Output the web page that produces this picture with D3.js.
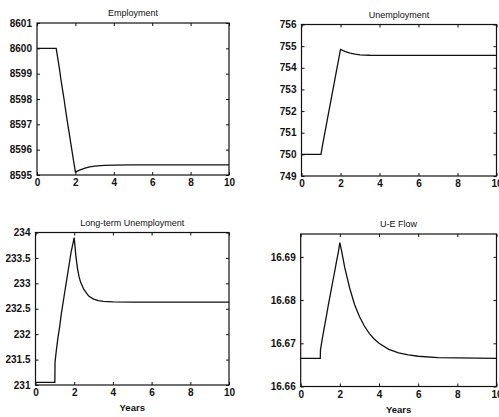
<!DOCTYPE html>
<html>
<head>
<meta charset="utf-8">
<script src="https://cdn.jsdelivr.net/npm/d3@7"></script>
<style>
  body { margin: 0; background: #fff; }
  svg { display: block; }
  .tick text { font-family: "Liberation Sans", Arial, sans-serif; font-weight: bold; font-size: 10px; fill: #111; }
  .title { font-family: "Liberation Sans", Arial, sans-serif; font-size: 9px; fill: #111; }
  .xlabel { font-family: "Liberation Sans", Arial, sans-serif; font-weight: bold; font-size: 9.5px; fill: #111; }
</style>
</head>
<body>
<div id="chart"></div>
<script>
// ---- data ----
let xTicks = [0, 2, 4, 6, 8, 10];

let empT = [0, 1, 1.083, 1.167, 1.25, 1.333, 1.417, 1.5, 1.583, 1.667, 1.75, 1.833, 1.917, 2, 2.25, 2.5, 2.75, 3, 3.5, 4, 5, 10];
let empV = [8600, 8600, 8599.6, 8599.2, 8598.75, 8598.35, 8597.95, 8597.5, 8597.1, 8596.7, 8596.3, 8595.9, 8595.5, 8595.12, 8595.2, 8595.27, 8595.32, 8595.35, 8595.38, 8595.39, 8595.4, 8595.4];
let empTicks = [8595, 8596, 8597, 8598, 8599, 8600, 8601];

let unT = [0, 1, 1.083, 1.167, 1.25, 1.333, 1.417, 1.5, 1.583, 1.667, 1.75, 1.833, 1.917, 2, 2.25, 2.5, 2.75, 3, 3.5, 4, 5, 10];
let unV = [750, 750, 750.45, 750.85, 751.25, 751.65, 752.05, 752.45, 752.85, 753.25, 753.65, 754.05, 754.45, 754.85, 754.75, 754.68, 754.63, 754.6, 754.58, 754.57, 754.57, 754.57];
let unTicks = [749, 750, 751, 752, 753, 754, 755, 756];

let ltT = [0, 1, 1.01, 1.083, 1.167, 1.25, 1.333, 1.417, 1.5, 1.583, 1.667, 1.75, 1.833, 1.917, 2, 2.083, 2.167, 2.25, 2.333, 2.5, 2.75, 3, 3.25, 3.5, 4, 5, 10];
let ltV = [231.05, 231.05, 231.45, 231.7, 231.95, 232.15, 232.4, 232.6, 232.8, 233.0, 233.2, 233.4, 233.6, 233.75, 233.9, 233.55, 233.3, 233.13, 233.02, 232.88, 232.75, 232.69, 232.66, 232.645, 232.635, 232.63, 232.63];
let ltTicks = [231, 231.5, 232, 232.5, 233, 233.5, 234];

let ueT = [0, 1, 1.01, 1.083, 1.167, 1.25, 1.333, 1.417, 1.5, 1.583, 1.667, 1.75, 1.833, 1.917, 2, 2.083, 2.25, 2.5, 2.75, 3, 3.25, 3.5, 3.75, 4, 4.5, 5, 5.5, 6, 7, 10];
let ueV = [16.6665, 16.6665, 16.6685, 16.6705, 16.6727, 16.6748, 16.6768, 16.679, 16.681, 16.683, 16.685, 16.687, 16.689, 16.691, 16.6933, 16.6915, 16.6875, 16.6828, 16.679, 16.6762, 16.674, 16.6723, 16.671, 16.670, 16.6686, 16.6678, 16.6673, 16.667, 16.6667, 16.6665];
let ueTicks = [16.66, 16.67, 16.68, 16.69];

let panels = [
    {title: "Employment", t: empT, v: empV, yTicks: empTicks, yDom: [8595, 8601], fmt: d3.format("d"),
     box: {x0: 37, x1: 229, y0: 23, y1: 175}, xlabel: false},
    {title: "Unemployment", t: unT, v: unV, yTicks: unTicks, yDom: [749, 756], fmt: d3.format("d"),
     box: {x0: 301.5, x1: 496.5, y0: 24.5, y1: 176}, xlabel: false},
    {title: "Long-term Unemployment", t: ltT, v: ltV, yTicks: ltTicks, yDom: [231, 234], fmt: d => d3.format("")(d),
     box: {x0: 35.5, x1: 229, y0: 232.5, y1: 385}, xlabel: true},
    {title: "U-E Flow", t: ueT, v: ueV, yTicks: ueTicks, yDom: [16.66, 16.6953], fmt: d3.format(".2f"),
     box: {x0: 300.7, x1: 496.5, y0: 234, y1: 386.5}, xlabel: true}
];

let svg = d3.select("#chart").append("svg")
    .attr("width", 499)
    .attr("height", 417);

panels.forEach(function(p) {
    let b = p.box;
    let x = d3.scaleLinear().domain([0, 10]).range([b.x0, b.x1]);
    let y = d3.scaleLinear().domain(p.yDom).range([b.y1, b.y0]);

    let g = svg.append("g");

    // axes with inward ticks on all four sides (matlab style box)
    g.append("g")
        .attr("transform", "translate(0," + b.y1 + ")")
        .call(d3.axisBottom(x).tickValues(xTicks).tickFormat(d3.format("d")).tickSizeInner(-3).tickSizeOuter(0).tickPadding(4));
    g.append("g")
        .attr("transform", "translate(0," + b.y0 + ")")
        .call(d3.axisTop(x).tickValues(xTicks).tickFormat("").tickSizeInner(-3).tickSizeOuter(0));
    g.append("g")
        .attr("transform", "translate(" + b.x0 + ",0)")
        .call(d3.axisLeft(y).tickValues(p.yTicks).tickFormat(p.fmt).tickSizeInner(-3).tickSizeOuter(0).tickPadding(5));
    g.append("g")
        .attr("transform", "translate(" + b.x1 + ",0)")
        .call(d3.axisRight(y).tickValues(p.yTicks).tickFormat("").tickSizeInner(-3).tickSizeOuter(0));

    g.selectAll(".domain").remove();
    g.selectAll(".tick line").attr("stroke", "#111");

    g.append("rect")
        .attr("x", b.x0)
        .attr("y", b.y0)
        .attr("width", b.x1 - b.x0)
        .attr("height", b.y1 - b.y0)
        .attr("fill", "none")
        .attr("stroke", "#111")
        .attr("stroke-width", 1.2);

    let pts = p.t.map((t, i) => [t, p.v[i]]);
    let line = d3.line()
        .x(d => x(d[0]))
        .y(d => y(d[1]));

    g.append("path")
        .datum(pts)
        .attr("d", line)
        .attr("fill", "none")
        .attr("stroke", "#111")
        .attr("stroke-width", 1.3);

    g.append("text")
        .attr("class", "title")
        .attr("x", (b.x0 + b.x1) / 2)
        .attr("y", b.y0 - 7)
        .attr("text-anchor", "middle")
        .text(p.title);

    if (p.xlabel) {
        g.append("text")
            .attr("class", "xlabel")
            .attr("x", (b.x0 + b.x1) / 2)
            .attr("y", b.y1 + 26)
            .attr("text-anchor", "middle")
            .text("Years");
    }
});
</script>
</body>
</html>
